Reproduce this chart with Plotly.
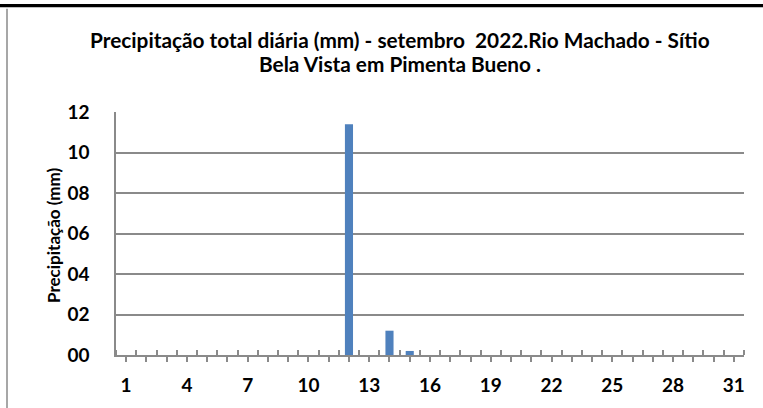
import plotly.graph_objects as go

# ---- data ----
days = [1, 2, 3, 4, 5, 6, 7, 8, 9, 10, 11, 12, 13, 14, 15, 16,
        17, 18, 19, 20, 21, 22, 23, 24, 25, 26, 27, 28, 29, 30, 31]
precip_mm = [0, 0, 0, 0, 0, 0, 0, 0, 0, 0, 0, 11.4, 0, 1.2, 0.2, 0,
             0, 0, 0, 0, 0, 0, 0, 0, 0, 0, 0, 0, 0, 0, 0]
label_days = [1, 4, 7, 10, 13, 16, 19, 22, 25, 28, 31]
label_text = ["1", "4", "7", "10", "13", "16", "19", "22", "25", "28", "31"]
y_ticks = [0, 2, 4, 6, 8, 10, 12]
y_tick_text = ["00", "02", "04", "06", "08", "10", "12"]

title_lines = ["Precipitação total diária (mm) - setembro  2022.Rio Machado - Sítio",
               "Bela Vista em Pimenta Bueno ."]
y_title = "Precipitação (mm)"

# ---- figure ----
W, H = 763, 408
L, R, T, B = 116, 744, 112, 357  # plot area in pixels
pw, ph = R - L, B - T

def px(x):
    return (x - L) / pw

def py(y):
    return (B - y) / ph

FONT = "Lato, Carlito, Calibri, 'Open Sans', sans-serif"
GRAY = "#8a8a8a"

tick_map = dict(zip(label_days, label_text))
ticktext = [tick_map.get(d, "") for d in days]

fig = go.Figure(go.Bar(
    x=days, y=precip_mm, width=0.4,
    marker=dict(color="#4f81bd", line=dict(width=0)),
))

fig.update_layout(
    width=W, height=H,
    margin=dict(l=L, r=W - R, t=T, b=H - B, pad=0),
    paper_bgcolor="white", plot_bgcolor="white",
    showlegend=False,
    font=dict(family=FONT, color="black"),
)

fig.update_xaxes(
    range=[0.5, 31.5], tickmode="array", tickvals=days, ticktext=ticktext,
    ticks="outside", ticklen=5, tickwidth=1.5, tickcolor=GRAY,
    showline=True, linecolor=GRAY, linewidth=1.5, showgrid=False, zeroline=False,
    tickfont=dict(family=FONT, size=19, color="black", weight="bold"),
    ticklabelstandoff=7,
    minor=dict(tickmode="linear", tick0=0.5, dtick=1, ticks="inside", ticklen=5,
               tickwidth=1.5, tickcolor=GRAY, showgrid=False),
)

fig.update_yaxes(
    range=[0, 12], tickmode="array", tickvals=y_ticks, ticktext=y_tick_text,
    ticks="", showline=True, linecolor=GRAY, linewidth=1.5,
    showgrid=True, gridcolor=GRAY, gridwidth=1.5, zeroline=False,
    tickfont=dict(family=FONT, size=19, color="black", weight="bold"),
    ticklabelstandoff=21,
)

# two-line chart title
for txt, yc in zip(title_lines, [39, 63.5]):
    fig.add_annotation(
        text=txt, xref="paper", yref="paper", x=px(400), y=py(yc),
        xanchor="center", yanchor="middle", showarrow=False,
        font=dict(family=FONT, size=20.8, color="black", weight="bold"),
    )

fig.add_annotation(
    text=y_title, textangle=-90, xref="paper", yref="paper",
    x=px(54), y=py(236), xanchor="center", yanchor="middle", showarrow=False,
    font=dict(family=FONT, size=17, color="black", weight="bold"),
)

# thick black rule at the very top (drawn as a filled annotation box)
fig.add_annotation(
    text=" ", xref="paper", yref="paper", x=px(0), y=py(3.5),
    xanchor="left", yanchor="top", width=W, height=3, borderpad=0,
    bgcolor="black", borderwidth=0, showarrow=False, font=dict(size=1),
)
fig.add_shape(type="rect", xref="paper", yref="paper",
              x0=px(0), x1=px(W), y0=py(6.5), y1=py(3.5),
              fillcolor="black", line=dict(width=0), layer="above")
# chart-frame left edge
fig.add_shape(type="line", xref="paper", yref="paper",
              x0=px(7), x1=px(7), y0=py(8), y1=py(H + 5),
              line=dict(color=GRAY, width=1.5))

fig.write_html(
    "out.html",
    config={"displayModeBar": False},
    post_script=("document.documentElement.style.overflow='hidden';"
                 "document.body.style.margin='0';"
                 "document.body.style.overflow='hidden';"
                 "window.scrollTo(0,0);"),
)
